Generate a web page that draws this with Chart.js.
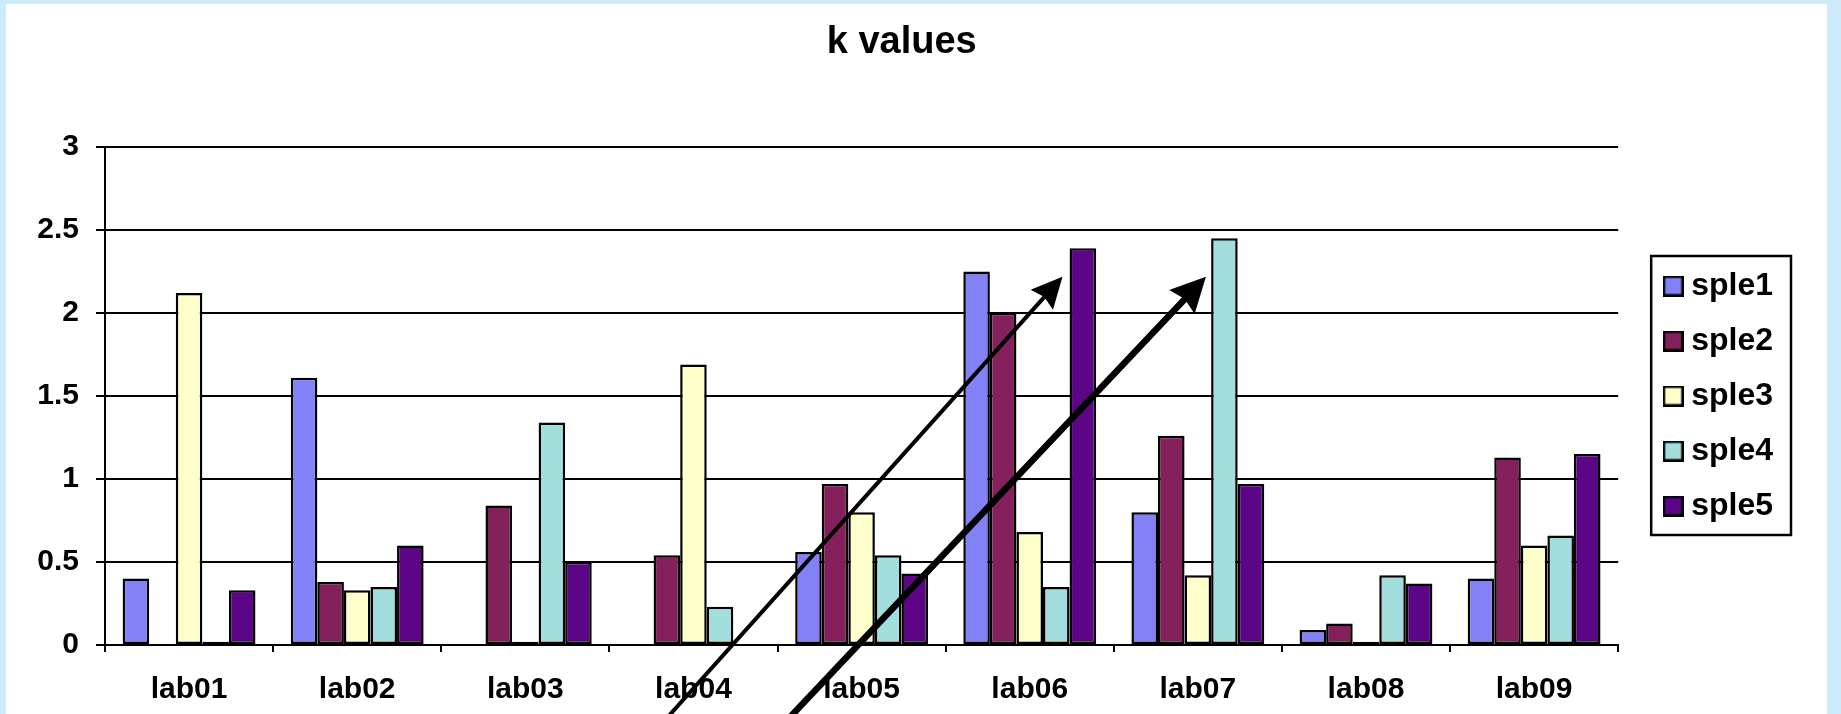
<!DOCTYPE html>
<html>
<head>
<meta charset="utf-8">
<title>k values</title>
<script src="https://cdn.jsdelivr.net/npm/chart.js@4.4.1/dist/chart.umd.min.js"></script>
<style>
  html, body { margin: 0; padding: 0; width: 1841px; height: 714px; overflow: hidden; background: #cdeafc; }
  #frame { position: absolute; left: 6px; top: 4px; width: 1821px; height: 710px; background: #ffffff; }
</style>
</head>
<body>
<div id="frame"><canvas id="chart"></canvas></div>
<script>
// ---- data ----
const categories = ['lab01', 'lab02', 'lab03', 'lab04', 'lab05', 'lab06', 'lab07', 'lab08', 'lab09'];
const seriesNames = ['sple1', 'sple2', 'sple3', 'sple4', 'sple5'];
const sple1 = [0.40, 1.61, null, null, 0.56, 2.25, 0.80, 0.09, 0.40];
const sple2 = [null, 0.38, 0.84, 0.54, 0.97, 2.00, 1.26, 0.13, 1.13];
const sple3 = [2.12, 0.33, 0.02, 1.69, 0.80, 0.68, 0.42, 0.02, 0.60];
const sple4 = [0.02, 0.35, 1.34, 0.23, 0.54, 0.35, 2.45, 0.42, 0.66];
const sple5 = [0.33, 0.60, 0.50, null, 0.43, 2.39, 0.97, 0.37, 1.15];
const yTickLabels = ['0', '0.5', '1', '1.5', '2', '2.5', '3'];
const chartTitle = 'k values';

// ---- styling ----
const FONT = "'Liberation Sans', Arial, Helvetica, sans-serif";
const seriesColors = ['#8282f6', '#84205c', '#ffffcc', '#a2dede', '#5c0586'];

// two hand-drawn arrows, given in axis units (category index, value)
const arrowNotes = [
  { from: [2.725, -0.572], to: [5.195, 2.219], width: 4,   headLength: 31, headHalf: 15 },
  { from: [3.446, -0.572], to: [6.048, 2.219], width: 6.5, headLength: 35, headHalf: 17.5 }
];

// legend swatches: filled square with a black outline
function makeSwatch(color) {
  const c = document.createElement('canvas');
  c.width = 21; c.height = 21;
  const g = c.getContext('2d');
  g.fillStyle = color;
  g.fillRect(0, 0, 21, 21);
  g.strokeStyle = '#000';
  g.lineWidth = 2.5;
  g.strokeRect(1.25, 1.25, 18.5, 18.5);
  return c;
}
const swatches = seriesColors.map(makeSwatch);

const seriesValues = [sple1, sple2, sple3, sple4, sple5];
const datasets = seriesNames.map((name, i) => ({
  label: name,
  data: seriesValues[i],
  backgroundColor: seriesColors[i],
  borderColor: '#000',
  borderWidth: 2.5,
  borderSkipped: false,
  yAxisID: 'y',
  categoryPercentage: 0.79,
  barPercentage: 1.0
}));

// frame drawn around the legend entries
const legendFrame = {
  id: 'legendFrame',
  afterDraw(chart) {
    const boxes = chart.legend && chart.legend.legendHitBoxes;
    if (!boxes || !boxes.length) return;
    const first = boxes[0], last = boxes[boxes.length - 1];
    const left = first.left - 20;
    const right = Math.max(...boxes.map(b => b.left + b.width)) + 18;
    const top = first.top + first.height / 2 - 30;
    const bottom = last.top + last.height / 2 + 29;
    const ctx = chart.ctx;
    ctx.save();
    ctx.strokeStyle = '#000';
    ctx.lineWidth = 2.5;
    ctx.strokeRect(left, top, right - left, bottom - top);
    ctx.restore();
  }
};

// arrows laid over the bars
const arrowLayer = {
  id: 'arrowLayer',
  afterDraw(chart) {
    const xs = chart.scales.x, ys = chart.scales.y;
    const ctx = chart.ctx;
    ctx.save();
    ctx.fillStyle = '#000';
    ctx.strokeStyle = '#000';
    arrowNotes.forEach(a => {
      const x0 = xs.getPixelForValue(a.from[0]), y0 = ys.getPixelForValue(a.from[1]);
      const x1 = xs.getPixelForValue(a.to[0]),   y1 = ys.getPixelForValue(a.to[1]);
      const len = Math.hypot(x1 - x0, y1 - y0);
      const dx = (x1 - x0) / len, dy = (y1 - y0) / len;
      const px = -dy, py = dx;
      const bx = x1 - dx * a.headLength, by = y1 - dy * a.headLength;
      ctx.lineWidth = a.width;
      ctx.lineCap = 'butt';
      ctx.beginPath();
      ctx.moveTo(x0, y0);
      ctx.lineTo(x1 - dx * a.headLength * 0.7, y1 - dy * a.headLength * 0.7);
      ctx.stroke();
      ctx.beginPath();
      ctx.moveTo(x1, y1);
      ctx.lineTo(bx + px * a.headHalf, by + py * a.headHalf);
      ctx.lineTo(bx + dx * a.headLength * 0.12, by + dy * a.headLength * 0.12);
      ctx.lineTo(bx - px * a.headHalf, by - py * a.headHalf);
      ctx.closePath();
      ctx.fill();
    });
    ctx.restore();
  }
};

new Chart(document.getElementById('chart'), {
  type: 'bar',
  data: { labels: categories, datasets },
  options: {
    responsive: true,
    maintainAspectRatio: false,
    animation: false,
    layout: { padding: { left: 14.4, right: 44, top: 4, bottom: 0 } },
    plugins: {
      title: {
        display: true,
        text: chartTitle,
        color: '#000',
        font: { family: FONT, size: 38, weight: 'bold' },
        padding: { top: 12, bottom: 81.4 }
      },
      legend: {
        position: 'right',
        align: 'center',
        fullSize: false,
        labels: {
          color: '#000',
          font: { family: FONT, size: 32, weight: 'bold' },
          usePointStyle: true,
          boxWidth: 4,
          padding: 23,
          generateLabels(chart) {
            const items = Chart.defaults.plugins.legend.labels.generateLabels(chart);
            items.forEach(it => { it.pointStyle = swatches[it.datasetIndex]; });
            return items;
          }
        }
      },
      tooltip: { enabled: false }
    },
    scales: {
      x: {
        offset: true,
        grid: { display: true, drawOnChartArea: false, drawTicks: true, tickLength: 7, color: '#000', lineWidth: 2, offset: true },
        border: { display: true, color: '#000', width: 2 },
        ticks: { color: '#000', font: { family: FONT, size: 30, weight: 'bold' }, padding: 19.6, maxRotation: 0, autoSkip: false },
        afterFit(scale) { scale.height = 69; }
      },
      y: {
        position: 'left',
        min: 0,
        max: 3,
        ticks: {
          stepSize: 0.5,
          color: '#000',
          font: { family: FONT, size: 30, weight: 'bold' },
          padding: 17,
          callback: (v, i) => yTickLabels[i]
        },
        grid: { color: '#000', lineWidth: 2, tickLength: 9, drawTicks: true },
        border: { display: true, color: '#000', width: 2 },
        afterFit(scale) { scale.width = 84.6; }
      },
      spacer: {
        type: 'linear',
        position: 'right',
        display: true,
        grid: { display: false, drawTicks: false },
        border: { display: false },
        ticks: { display: false },
        afterFit(scale) { scale.width = 30; }
      }
    }
  },
  plugins: [legendFrame, arrowLayer]
});
</script>
</body>
</html>
